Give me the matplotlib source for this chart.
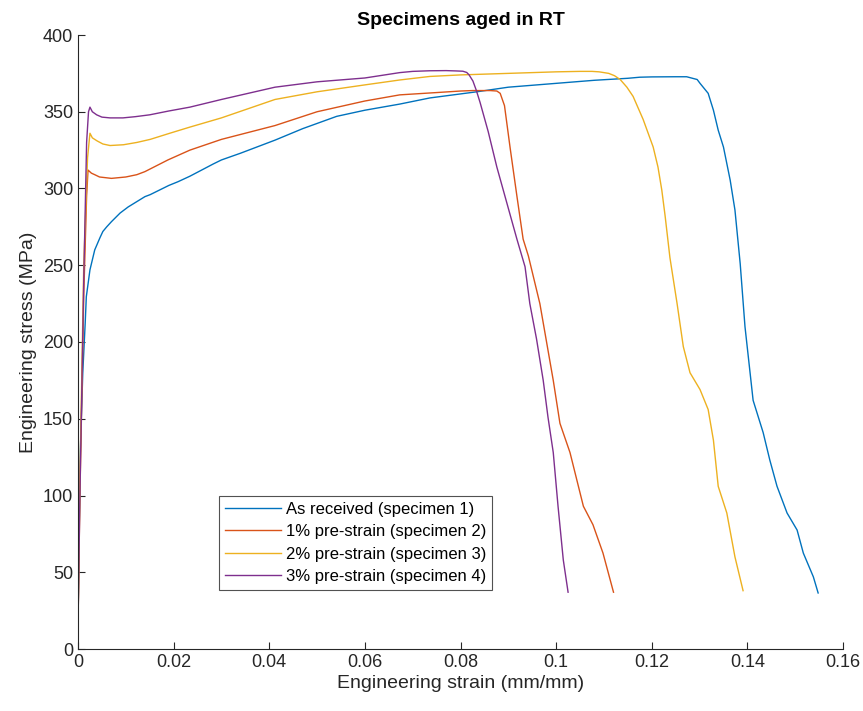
import matplotlib
matplotlib.use("Agg")
import matplotlib.pyplot as plt
from matplotlib.ticker import FuncFormatter

plt.rcParams['font.family'] = ['Liberation Sans', 'DejaVu Sans']

# ---- data ----
blue_strain = [0, 0.0003, 0.0005, 0.0008, 0.001, 0.0015, 0.00174, 0.0025, 0.0035, 0.0046,
               0.0052, 0.006, 0.007, 0.0088, 0.0105, 0.014, 0.0151, 0.019, 0.0209, 0.0234,
               0.0283, 0.03, 0.034, 0.0412, 0.047, 0.0541, 0.06, 0.0673, 0.0736, 0.0834,
               0.09, 0.1, 0.108, 0.115, 0.1175, 0.12, 0.125, 0.1273, 0.1295, 0.1301,
               0.1318, 0.1329, 0.1339, 0.135, 0.1364, 0.1374, 0.1385, 0.1395, 0.1412,
               0.1433, 0.1447, 0.1462, 0.1483, 0.1504, 0.1517, 0.1538, 0.1548]
blue_stress = [15, 90, 130, 160, 180, 212, 229.5, 247, 260, 268,
               272, 275, 278.4, 284, 288, 294.7, 296, 302, 304.4, 308,
               316, 318.6, 323, 331.5, 339, 347, 351, 355, 359, 363,
               366, 368.5, 370.5, 371.8, 372.5, 372.7, 372.8, 372.8, 371, 368.5,
               362, 351, 338, 327, 305.5, 286, 251, 210, 162,
               141, 123, 106, 88.6, 77.5, 62.5, 47, 36.5]

red_strain = [0, 0.0004, 0.0009, 0.0012, 0.0018, 0.0021, 0.0028, 0.0035, 0.0045, 0.007,
              0.01, 0.0123, 0.014, 0.0188, 0.0234, 0.03, 0.0412, 0.05, 0.06,
              0.0673, 0.075, 0.08, 0.0825, 0.0862, 0.0876, 0.0883, 0.0892, 0.0904,
              0.0918, 0.0931, 0.0942, 0.0966, 0.0994, 0.1008, 0.1029, 0.1057, 0.1077,
              0.1098, 0.112]
red_stress = [15, 100, 180, 230, 295, 312, 310, 309, 307.5, 306.6,
              307.5, 309, 311, 318.6, 325, 332, 341, 350, 357,
              361, 362.5, 363.5, 363.8, 363.8, 363.5, 362, 354, 326,
              295, 267, 256, 225, 175, 147, 128, 93, 81,
              62.5, 37]

yellow_strain = [0, 0.0004, 0.0012, 0.002, 0.0025, 0.003, 0.004, 0.0052, 0.0067, 0.0095,
                 0.0123, 0.0151, 0.0192, 0.0234, 0.03, 0.0412, 0.05, 0.06, 0.0673, 0.0736,
                 0.08, 0.09, 0.1, 0.105, 0.1075, 0.109, 0.111, 0.1122, 0.1134, 0.1148,
                 0.1161, 0.1182, 0.1203, 0.1213, 0.1221, 0.1228, 0.1238, 0.1253, 0.1266,
                 0.128, 0.1301, 0.1318, 0.1329, 0.1339, 0.1357, 0.1374, 0.1391]
yellow_stress = [15, 110, 250, 320, 336, 333, 331, 329, 328, 328.5,
                 330, 332, 336, 340, 346, 358, 363, 367.5, 370.7, 373,
                 374, 375, 376, 376.3, 376.3, 376, 375, 373.5, 371, 366,
                 360, 345, 327, 314, 299, 282, 255, 225, 197,
                 180, 169, 156, 136, 106, 88.6, 60, 38]

purple_strain = [0, 0.0004, 0.0012, 0.0018, 0.0022, 0.0025, 0.003, 0.0039, 0.005, 0.0067,
                 0.0094, 0.012, 0.015, 0.019, 0.0234, 0.03, 0.0412, 0.05, 0.06, 0.0673,
                 0.07, 0.0736, 0.077, 0.079, 0.0805, 0.0813, 0.0818, 0.0826, 0.0833,
                 0.0841, 0.0858, 0.0876, 0.0897, 0.0918, 0.0935, 0.0945, 0.0959, 0.0973,
                 0.0983, 0.0994, 0.1004, 0.1015, 0.1025]
purple_stress = [15, 100, 240, 330, 350, 353, 350, 348, 346.5, 346,
                 346, 346.8, 348, 350.5, 353, 358, 366, 369.5, 372, 375.5,
                 376.3, 376.7, 376.8, 376.6, 376.4, 375.6, 374, 370, 364,
                 356, 337, 314, 290.5, 267, 249, 225, 202, 175,
                 151, 128, 93, 58, 37]

labels = ["As received (specimen 1)", "1% pre-strain (specimen 2)",
          "2% pre-strain (specimen 3)", "3% pre-strain (specimen 4)"]
colors = ["#0072BD", "#D95319", "#EDB120", "#7E2F8E"]

x_ticks = [0, 0.02, 0.04, 0.06, 0.08, 0.1, 0.12, 0.14, 0.16]
y_ticks = [0, 50, 100, 150, 200, 250, 300, 350, 400]

fig = plt.figure(figsize=(8.63, 7.11), dpi=100)
ax = fig.add_axes([78/863, 1-649/711, (843-78)/863, (649-35)/711])

series = [(blue_strain, blue_stress), (red_strain, red_stress),
          (yellow_strain, yellow_stress), (purple_strain, purple_stress)]
for (xs, ys), c, lab in zip(series, colors, labels):
    ax.plot(xs, ys, color=c, lw=1.0, label=lab)

ax.set_xlim(0, 0.16)
ax.set_ylim(0, 400)
ax.set_xticks(x_ticks)
ax.set_yticks(y_ticks)
ax.xaxis.set_major_formatter(FuncFormatter(lambda v, p: f"{v:g}"))

for s in ['top', 'right']:
    ax.spines[s].set_visible(False)
for s in ['left', 'bottom']:
    ax.spines[s].set_color('#262626')
    ax.spines[s].set_linewidth(0.8)
ax.tick_params(direction='in', length=5, width=0.8, colors='#262626',
               labelsize=13, labelcolor='#262626')

ax.set_xlabel("Engineering strain (mm/mm)", fontsize=14, color='#262626', labelpad=3)
ax.set_ylabel("Engineering stress (MPa)", fontsize=14, color='#262626')
ax.set_title("Specimens aged in RT", fontsize=14, fontweight='bold', color='black', pad=7)

leg = ax.legend(loc='lower left', bbox_to_anchor=(0.184, 0.096), fontsize=12,
                frameon=True, fancybox=False, edgecolor='#262626', handlelength=3.4,
                borderpad=0.35, labelspacing=0.45, handletextpad=0.3, borderaxespad=0)
leg.get_frame().set_linewidth(0.8)

fig.savefig("out.png", dpi=100)
